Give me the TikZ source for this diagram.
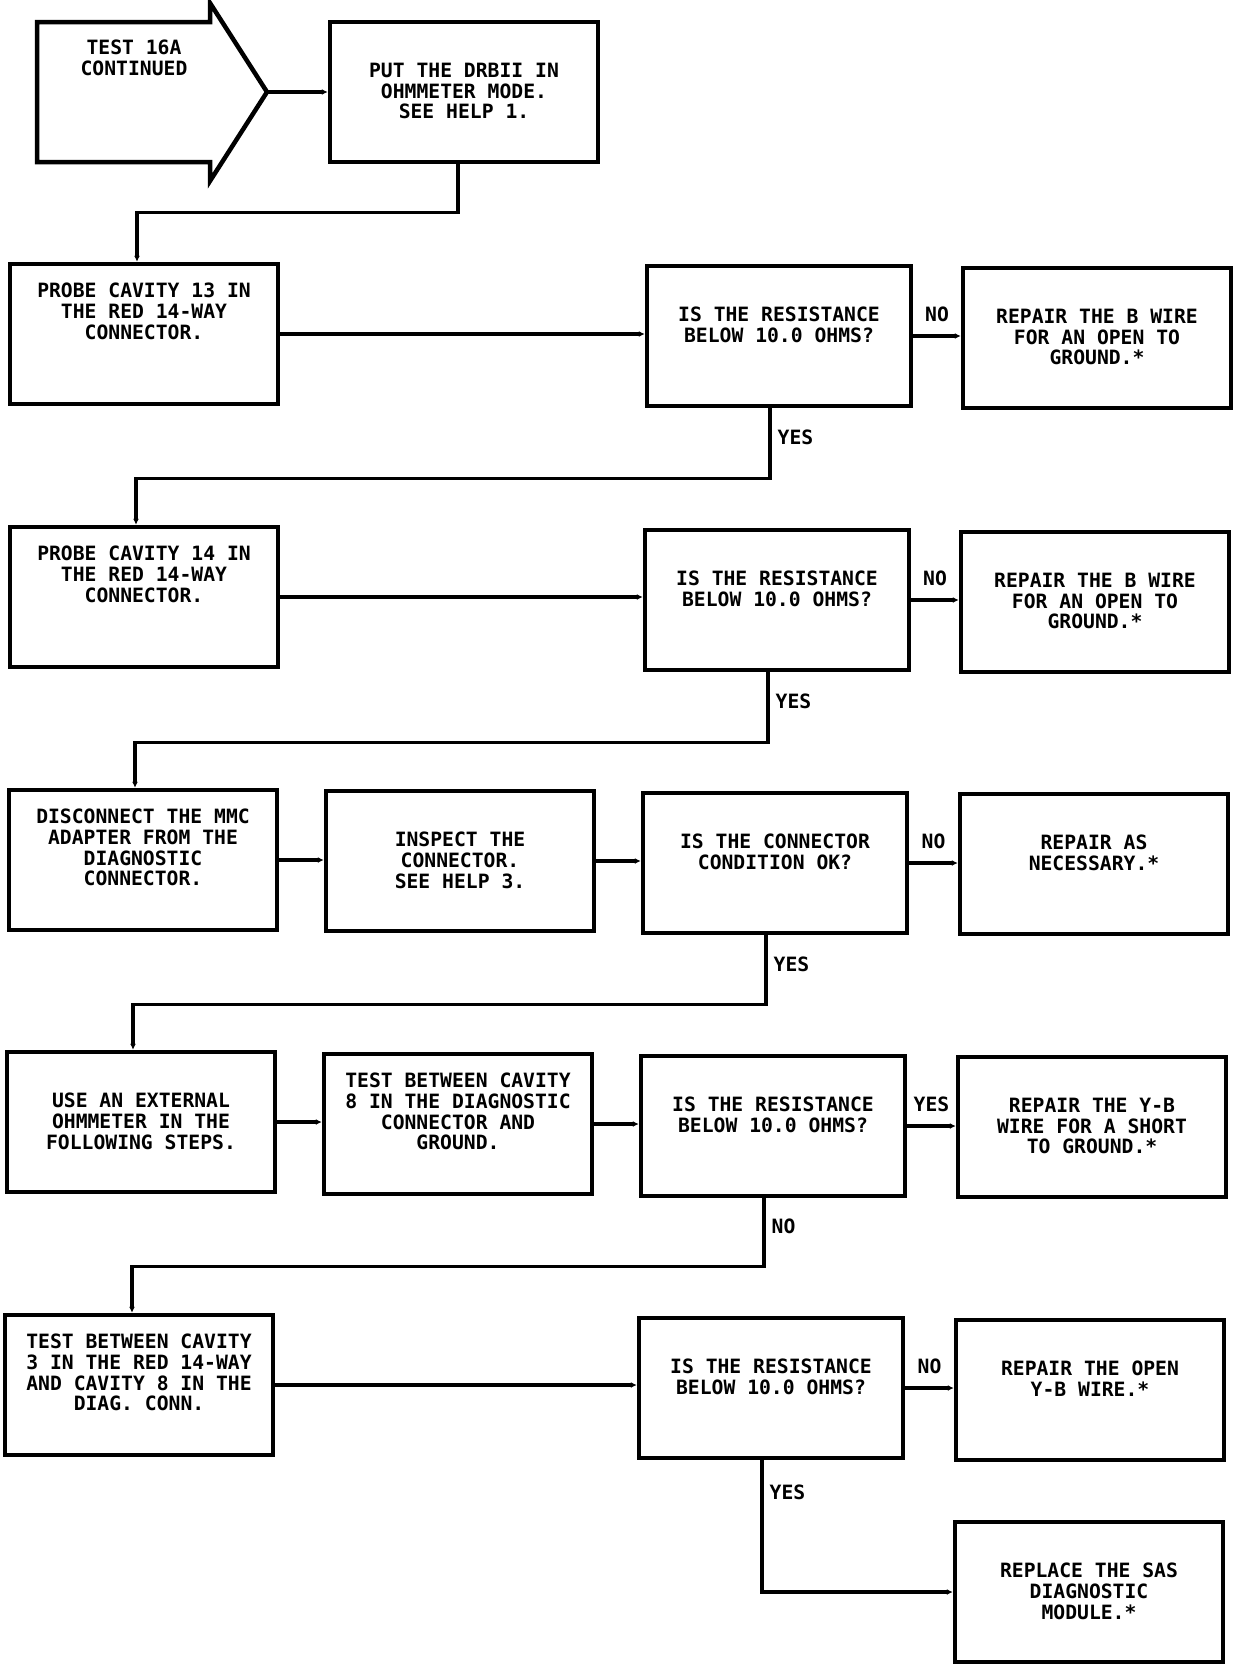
\documentclass[tikz,border=0pt]{standalone}
\usepackage{fontspec}
\newfontfamily\chartfont{DejaVu Sans Mono}
\usetikzlibrary{arrows.meta}

\newcommand{\steptext}[2][37pt]{\parbox[c][132pt][t]{260pt}{\centering\vspace*{#1}#2}}

\begin{document}
\begin{tikzpicture}[x=1pt, y=-1pt,
    font=\chartfont\bfseries\fontsize{19.7}{20.7}\selectfont,
    stepbox/.style={draw, line width=4.5pt, inner sep=4pt},
    decision/.style={stepbox, inner xsep=2pt},
    flow/.style={line width=3.3pt, -{Latex[length=6pt,width=6pt]}},
    lab/.style={inner sep=2pt}]
        \useasboundingbox (0,0) rectangle (1248,1666);

        % entry arrow
        \draw[line width=4.5pt] (37,22) -- (210,22) -- (210,3) -- (267,92) coordinate (conttip)
          -- (210,181) -- (210,162) -- (37,162) -- cycle;
        \node[align=center] (cont) at (134,58) {TEST 16A\\CONTINUED};

        \node[stepbox] (put) at (464,92) {\steptext{PUT THE DRBII IN\\OHMMETER MODE.\\SEE HELP 1.}};

        % row 1
        \node[stepbox] (probe13) at (144,334) {\steptext[15pt]{PROBE CAVITY 13 IN\\THE RED 14-WAY\\CONNECTOR.}};
        \node[decision] (dec1) at (779,336) {\steptext{IS THE RESISTANCE\\BELOW 10.0 OHMS?}};
        \node[stepbox] (rep1) at (1097,338) {\steptext{REPAIR THE B WIRE\\FOR AN OPEN TO\\GROUND.*}};

        % row 2
        \node[stepbox] (probe14) at (144,597) {\steptext[15pt]{PROBE CAVITY 14 IN\\THE RED 14-WAY\\CONNECTOR.}};
        \node[decision] (dec2) at (777,600) {\steptext{IS THE RESISTANCE\\BELOW 10.0 OHMS?}};
        \node[stepbox] (rep2) at (1095,602) {\steptext{REPAIR THE B WIRE\\FOR AN OPEN TO\\GROUND.*}};

        % row 3
        \node[stepbox] (disc) at (143,860) {\steptext[15pt]{DISCONNECT THE MMC\\ADAPTER FROM THE\\DIAGNOSTIC\\CONNECTOR.}};
        \node[stepbox] (insp) at (460,861) {\steptext{INSPECT THE\\CONNECTOR.\\SEE HELP 3.}};
        \node[decision] (dec3) at (775,863) {\steptext{IS THE CONNECTOR\\CONDITION OK?}};
        \node[stepbox] (rep3) at (1094,864) {\steptext{REPAIR AS\\NECESSARY.*}};

        % row 4
        \node[stepbox] (use) at (141,1122) {\steptext{USE AN EXTERNAL\\OHMMETER IN THE\\FOLLOWING STEPS.}};
        \node[stepbox] (tbc8) at (458,1124) {\steptext[15pt]{TEST BETWEEN CAVITY\\8 IN THE DIAGNOSTIC\\CONNECTOR AND\\GROUND.}};
        \node[decision] (dec4) at (773,1126) {\steptext{IS THE RESISTANCE\\BELOW 10.0 OHMS?}};
        \node[stepbox] (rep4) at (1092,1127) {\steptext{REPAIR THE Y-B\\WIRE FOR A SHORT\\TO GROUND.*}};

        % row 5
        \node[stepbox] (tbc3) at (139,1385) {\steptext[15pt]{TEST BETWEEN CAVITY\\3 IN THE RED 14-WAY\\AND CAVITY 8 IN THE\\DIAG. CONN.}};
        \node[decision] (dec5) at (771,1388) {\steptext{IS THE RESISTANCE\\BELOW 10.0 OHMS?}};
        \node[stepbox] (rep5) at (1090,1390) {\steptext{REPAIR THE OPEN\\Y-B WIRE.*}};
        \node[stepbox] (rep6) at (1089,1592) {\steptext{REPLACE THE SAS\\DIAGNOSTIC\\MODULE.*}};

        % connectors
        \draw[flow] (conttip) -- (put.west);
        \draw[flow] ([xshift=-6pt]put.south) -- ++(0,48) -| ([xshift=-7pt]probe13.north);

        \draw[flow] (probe13.east) -- (probe13.east -| dec1.west);
        \draw[flow] (dec1.east) -- node[lab, above=11pt] {NO} (dec1.east -| rep1.west);
        \draw[flow] ([xshift=-9pt]dec1.south) -- node[lab, right=4pt, pos=.42] {YES} ++(0,70) -| ([xshift=-8pt]probe14.north);

        \draw[flow] (probe14.east) -- (probe14.east -| dec2.west);
        \draw[flow] (dec2.east) -- node[lab, above=11pt] {NO} (dec2.east -| rep2.west);
        \draw[flow] ([xshift=-9pt]dec2.south) -- node[lab, right=4pt, pos=.42] {YES} ++(0,70) -| ([xshift=-8pt]disc.north);

        \draw[flow] (disc.east) -- (disc.east -| insp.west);
        \draw[flow] (insp.east) -- (insp.east -| dec3.west);
        \draw[flow] (dec3.east) -- node[lab, above=11pt] {NO} (dec3.east -| rep3.west);
        \draw[flow] ([xshift=-9pt]dec3.south) -- node[lab, right=4pt, pos=.42] {YES} ++(0,69) -| ([xshift=-8pt]use.north);

        \draw[flow] (use.east) -- (use.east -| tbc8.west);
        \draw[flow] (tbc8.east) -- (tbc8.east -| dec4.west);
        \draw[flow] (dec4.east) -- node[lab, above=11pt] {YES} (dec4.east -| rep4.west);
        \draw[flow] ([xshift=-9pt]dec4.south) -- node[lab, right=4pt, pos=.42] {NO} ++(0,68) -| ([xshift=-7pt]tbc3.north);

        \draw[flow] (tbc3.east) -- (tbc3.east -| dec5.west);
        \draw[flow] (dec5.east) -- node[lab, above=11pt] {NO} (dec5.east -| rep5.west);
        \draw[flow] ([xshift=-9pt]dec5.south) |- node[lab, right=4pt, pos=.12] {YES} (rep6.west);
      \end{tikzpicture}
\end{document}
